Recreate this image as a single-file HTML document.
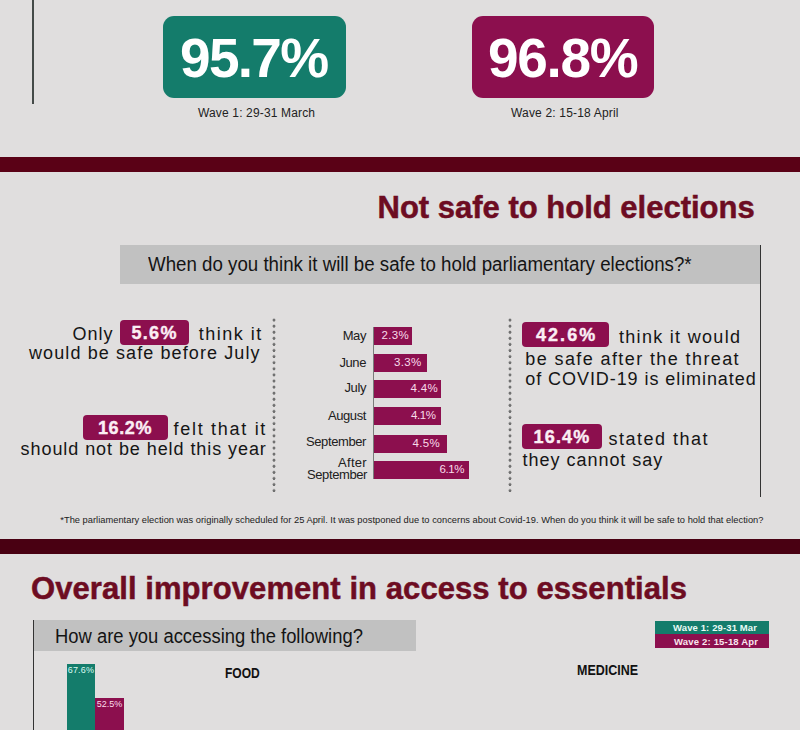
<!DOCTYPE html>
<html><head><meta charset="utf-8">
<style>
*{margin:0;padding:0;box-sizing:border-box}
html,body{width:800px;height:730px;overflow:hidden;background:#e0dede;font-family:"Liberation Sans",sans-serif}
body{position:relative}
.a{position:absolute;white-space:nowrap;line-height:1}
.box{position:absolute}
.band{position:absolute;left:0;width:800px;height:15px}
.mag{background:#8c0f4e}
.grn{background:#147c6b}
.bd{font-weight:bold}
.t18{font-size:18px;color:#151515}
.badge{position:absolute;background:#8c0f4e;border-radius:4px;height:25px}
.bw{font-weight:bold;font-size:18px;color:#fbeef4;-webkit-text-stroke:0.4px #fbeef4}
.mon{font-size:13px;color:#202020;letter-spacing:-0.4px}
.bar{position:absolute;left:374px;background:#8c0f4e}
.bl{font-size:11.5px;color:#f8dcea;letter-spacing:0.3px}
.dots{position:absolute;width:4px;background-image:radial-gradient(circle at 2px 2px,#707070 1.25px,transparent 1.75px);background-size:4px 6.1px;background-repeat:repeat-y}
</style></head><body>
<!-- top section -->
<div class="box" style="left:32px;top:0;width:2px;height:104px;background:#444a48"></div>
<div class="box grn" style="left:163px;top:16px;width:183px;height:82px;border-radius:11px"></div>
<div class="a bd" style="left:180px;top:30.6px;font-size:55px;letter-spacing:-1.7px;color:#fff">95.7%</div>
<div class="a" style="left:198px;top:106.5px;font-size:12px;letter-spacing:0.15px;color:#222">Wave 1: 29-31 March</div>
<div class="box mag" style="left:472px;top:16px;width:182px;height:82px;border-radius:11px"></div>
<div class="a bd" style="left:488px;top:30.6px;font-size:55px;letter-spacing:-1.3px;color:#fff">96.8%</div>
<div class="a" style="left:511px;top:106.5px;font-size:12px;letter-spacing:0.18px;color:#222">Wave 2: 15-18 April</div>

<div class="band" style="top:157px;background:#5a0116"></div>

<!-- section 2 -->
<div class="a bd" style="left:377.5px;top:192px;font-size:31px;letter-spacing:0px;color:#6d0c22;-webkit-text-stroke:0.5px #6d0c22">Not safe to hold elections</div>
<div class="box" style="left:120px;top:245px;width:640px;height:39px;background:#c1c1c1"></div>
<div class="box" style="left:760px;top:245px;width:1px;height:252px;background:#333"></div>
<div class="a" style="left:148px;top:253.8px;font-size:20px;color:#141414;transform:scaleX(0.935);transform-origin:0 0">When do you think it will be safe to hold parliamentary elections?*</div>

<!-- left col -->
<div class="a t18" style="left:72.4px;top:324.8px;letter-spacing:1px">Only</div>
<div class="badge" style="left:120px;top:320px;width:69px"></div>
<div class="a bw" style="left:131.5px;top:323.9px;letter-spacing:1.3px">5.6%</div>
<div class="a t18" style="left:198.8px;top:324.8px;letter-spacing:1.5px">think it</div>
<div class="a t18" style="left:29px;top:343.8px;letter-spacing:1.1px">would be safe before July</div>

<div class="badge" style="left:83px;top:415px;width:85px"></div>
<div class="a bw" style="left:98px;top:418.8px;letter-spacing:0.6px">16.2%</div>
<div class="a t18" style="left:173.6px;top:419.8px;letter-spacing:1.7px">felt that it</div>
<div class="a t18" style="left:20.6px;top:440.2px;letter-spacing:0.93px">should not be held this year</div>

<div class="dots" style="left:272px;top:318px;height:174px"></div>
<div class="dots" style="left:507.5px;top:318px;height:174px"></div>

<!-- bar chart -->
<div class="box" style="left:373px;top:327px;width:1px;height:152px;background:#7b7b7b"></div>
<div class="bar" style="top:327px;height:17.5px;width:38px"></div>
<div class="bar" style="top:354px;height:17.5px;width:53px"></div>
<div class="bar" style="top:380px;height:17.5px;width:67px"></div>
<div class="bar" style="top:407px;height:17.5px;width:67px"></div>
<div class="bar" style="top:435px;height:17.5px;width:73px"></div>
<div class="bar" style="top:461px;height:17.5px;width:95px"></div>

<div class="a mon" style="right:434px;top:329px">May</div>
<div class="a mon" style="right:434px;top:355.6px">June</div>
<div class="a mon" style="right:434px;top:381.3px">July</div>
<div class="a mon" style="right:434px;top:408.7px">August</div>
<div class="a mon" style="right:434px;top:434.6px">September</div>
<div class="a mon" style="right:433px;top:455.6px;letter-spacing:0.3px">After</div>
<div class="a mon" style="right:433px;top:468px">September</div>

<div class="a bl" style="left:381.5px;top:330.3px">2.3%</div>
<div class="a bl" style="left:394px;top:357px">3.3%</div>
<div class="a bl" style="left:410.5px;top:383.2px">4.4%</div>
<div class="a bl" style="left:411px;top:410.2px;letter-spacing:-0.4px">4.1%</div>
<div class="a bl" style="left:412.5px;top:438px">4.5%</div>
<div class="a bl" style="left:439.5px;top:464.2px;letter-spacing:-0.4px">6.1%</div>

<!-- right col -->
<div class="badge" style="left:522px;top:322px;width:87px"></div>
<div class="a bw" style="left:536px;top:326px;letter-spacing:2.05px">42.6%</div>
<div class="a t18" style="left:619px;top:328.3px;letter-spacing:1.3px">think it would</div>
<div class="a t18" style="left:525.3px;top:349.5px;letter-spacing:1.4px">be safe after the threat</div>
<div class="a t18" style="left:525.3px;top:369.5px;letter-spacing:0.93px">of COVID-19 is eliminated</div>

<div class="badge" style="left:522px;top:424px;width:80px"></div>
<div class="a bw" style="left:533.5px;top:428px;letter-spacing:1.2px">16.4%</div>
<div class="a t18" style="left:608.4px;top:430px;letter-spacing:1.5px">stated that</div>
<div class="a t18" style="left:522.6px;top:451px;letter-spacing:0.97px">they cannot say</div>

<div class="a" style="left:60.3px;top:516.4px;font-size:9.3px;letter-spacing:0.02px;color:#1c1c1c">*The parliamentary election was originally scheduled for 25 April. It was postponed due to concerns about Covid-19. When do you think it will be safe to hold that election?</div>

<!-- section 3 -->
<div class="band" style="top:539px;background:#490012"></div>
<div class="a bd" style="left:31px;top:572.8px;font-size:31px;letter-spacing:0.07px;color:#6d0c22;-webkit-text-stroke:0.5px #6d0c22">Overall improvement in access to essentials</div>
<div class="box" style="left:34px;top:620px;width:382px;height:31px;background:#c1c1c1"></div>
<div class="box" style="left:33px;top:620px;width:1px;height:110px;background:#333"></div>
<div class="a" style="left:54.5px;top:625.8px;font-size:20px;color:#141414;transform:scaleX(0.92);transform-origin:0 0">How are you accessing the following?</div>

<div class="box grn" style="left:655px;top:620.5px;width:114px;height:13.5px"></div>
<div class="box mag" style="left:655px;top:634px;width:114px;height:14px"></div>
<div class="a bd" style="left:673px;top:623px;font-size:9.5px;letter-spacing:0.12px;color:#e9fbf6">Wave 1: 29-31 Mar</div>
<div class="a bd" style="left:674px;top:637px;font-size:9.5px;letter-spacing:0.18px;color:#fae6ef">Wave 2: 15-18 Apr</div>

<div class="a bd" style="left:225px;top:665.5px;font-size:14.5px;color:#111;transform:scaleX(0.83);transform-origin:0 0">FOOD</div>
<div class="a bd" style="left:577px;top:663.3px;font-size:14.5px;color:#111;transform:scaleX(0.86);transform-origin:0 0">MEDICINE</div>

<div class="box grn" style="left:67px;top:664px;width:28px;height:66px"></div>
<div class="box mag" style="left:95px;top:698px;width:29px;height:32px"></div>
<div class="a" style="left:67.7px;top:666.3px;font-size:9px;letter-spacing:0.2px;color:#d9fbf2">67.6%</div>
<div class="a" style="left:96.7px;top:700.4px;font-size:9px;letter-spacing:0.0px;color:#fbdcea">52.5%</div>
</body></html>
